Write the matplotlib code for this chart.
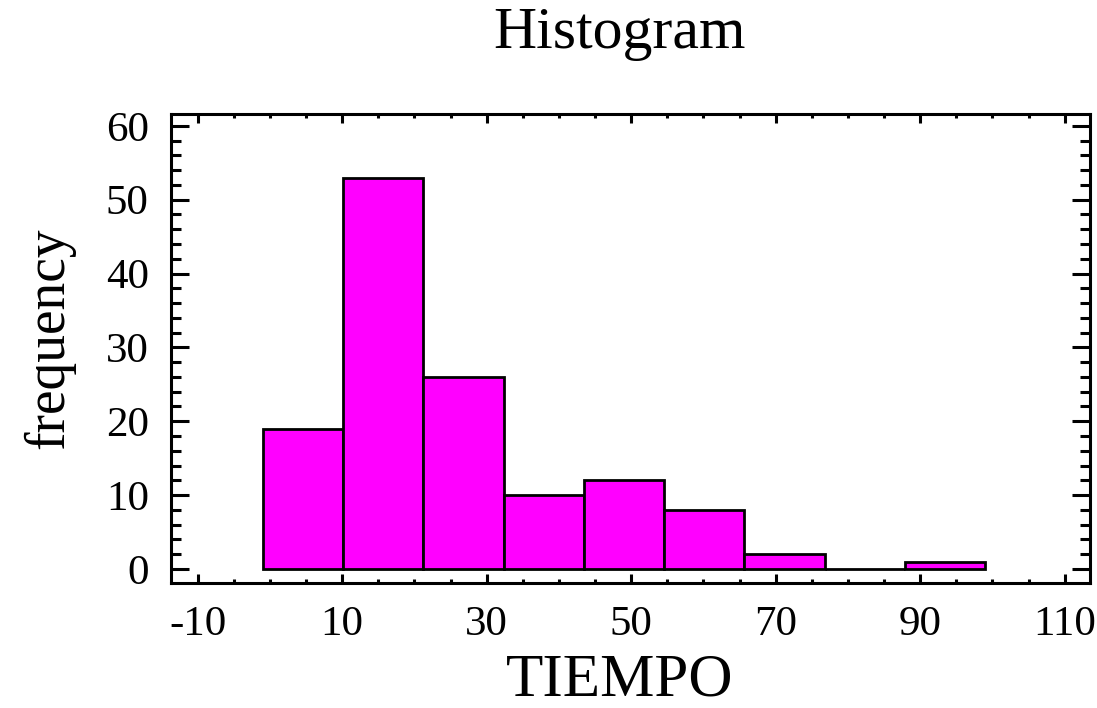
import numpy as np
import matplotlib
matplotlib.use("Agg")
import matplotlib.pyplot as plt
from matplotlib.ticker import MultipleLocator

plt.rcParams['font.family'] = ['Liberation Serif', 'DejaVu Serif']
plt.rcParams['axes.unicode_minus'] = False

# histogram data
bin_edges = np.linspace(-1, 99, 10)
counts = [19, 53, 26, 10, 12, 8, 2, 0, 1]
x_ticks = [-10, 10, 30, 50, 70, 90, 110]
y_ticks = [0, 10, 20, 30, 40, 50, 60]

fig = plt.figure(figsize=(10.97, 7.08), dpi=100)
ax = fig.add_axes([0.1559, 0.1766, 0.8377, 0.6624])

ax.bar(bin_edges[:-1], counts, width=np.diff(bin_edges), align='edge',
       color='#ff00ff', edgecolor='black', linewidth=2.0)

ax.set_xlim(-13.7, 113.5)
ax.set_ylim(-1.9, 61.6)
ax.set_xticks(x_ticks)
ax.set_xticklabels([str(t) for t in x_ticks])
ax.set_yticks(y_ticks)
ax.set_yticklabels([str(t) for t in y_ticks])
ax.xaxis.set_minor_locator(MultipleLocator(5))
ax.yaxis.set_minor_locator(MultipleLocator(2))

for s in ax.spines.values():
    s.set_linewidth(2.2)

ax.tick_params(axis='x', which='major', direction='in', length=6.5, width=2.2,
               top=True, bottom=True, labelsize=31, pad=16)
ax.tick_params(axis='x', which='minor', direction='in', length=3, width=2.2,
               top=True, bottom=True)
ax.tick_params(axis='y', which='major', direction='in', length=13, width=2.2,
               left=True, right=True, labelsize=31, pad=16)
ax.tick_params(axis='y', which='minor', direction='in', length=7.5, width=2.2,
               left=True, right=True)

fig.text(0.565, 0.932, "Histogram", fontsize=43, ha='center', va='baseline')
fig.text(0.565, 0.0, "TIEMPO", fontsize=44, ha='center', va='bottom')
fig.text(0.045, 0.523, "frequency", fontsize=40, ha='center', va='center',
         rotation=90)

fig.savefig("out.png", dpi=100)
